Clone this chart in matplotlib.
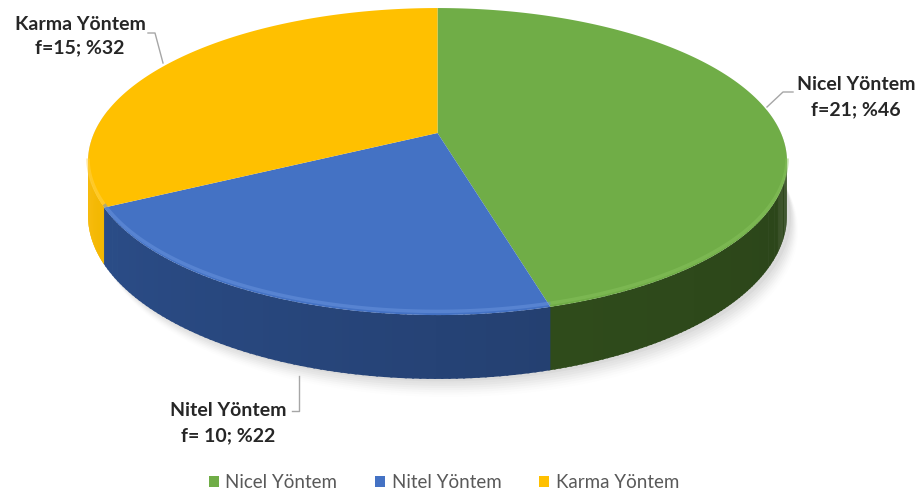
import numpy as np
import matplotlib
matplotlib.use('Agg')
import matplotlib.pyplot as plt
from matplotlib.patches import Patch
from matplotlib.colors import to_rgb

plt.rcParams['font.family'] = ['Lato', 'DejaVu Sans']

# data
categories = ['Nicel Yöntem', 'Nitel Yöntem', 'Karma Yöntem']
counts = [21, 10, 15]
value_labels = ['f=21; %46', 'f= 10; %22', 'f=15; %32']

top_colors = ['#70AD47', '#4472C4', '#FFC000']
side_light = ['#35561F', '#2C4F8C', '#F7BA00']
side_dark = ['#2B4419', '#1F365F', '#E0A500']
rim_light = ['#86C25C', '#6A95DE', '#FFD34D']

# pie geometry in pixels (perspective-ish 3d look)
cx, cy = 437.5, 133.0
A, B = 343.4, 148.2
p = 0.186
T = 52.0


def rim(theta, drop=0.0):
    th = np.radians(theta)
    s = 1.0 / (1.0 + p * np.cos(th))
    x = cx + A * np.sin(th) * s
    y = cy - B * np.cos(th) * s + drop * s
    return x, y


fig = plt.figure(figsize=(9.19, 4.96), dpi=100)
ax = fig.add_axes([0, 0, 1, 1])
ax.set_xlim(0, 919)
ax.set_ylim(496, 0)
ax.axis('off')

fracs = np.array(counts) / np.sum(counts)
edges = np.concatenate([[0], np.cumsum(fracs) * 360])

vis0 = 180 - np.degrees(np.arccos(p))
vis1 = 180 + np.degrees(np.arccos(p))

# soft shadow
tt = np.linspace(vis0 - 20, vis1 + 20, 200)
for k, a in zip(range(8), np.linspace(0.06, 0.015, 8)):
    bx, by = rim(tt, T + 2 + k * 1.8)
    ux, uy = rim(tt[::-1], 0)
    ax.fill(np.concatenate([bx + 4 + k, ux]), np.concatenate([by, uy]),
            color='#808080', alpha=a, lw=0, zorder=0)

# sides
for i in range(len(counts)):
    a0, a1 = max(edges[i], vis0), min(edges[i + 1], vis1)
    if a1 <= a0:
        continue
    ts = np.linspace(a0, a1, 80)
    c0, c1 = np.array(to_rgb(side_light[i])), np.array(to_rgb(side_dark[i]))
    for j in range(len(ts) - 1):
        mid = 0.5 * (ts[j] + ts[j + 1])
        w = (vis1 - mid) / (vis1 - vis0)
        col = c0 * (1 - w) + c1 * w
        xa, ya = rim(np.array([ts[j], ts[j + 1] + 0.3]))
        xb, yb = rim(np.array([ts[j + 1] + 0.3, ts[j]]), T)
        ax.fill(np.concatenate([xa, xb]), np.concatenate([ya, yb]),
                color=col, lw=0, zorder=1)

# tops
for i in range(len(counts)):
    ts = np.linspace(edges[i], edges[i + 1], 200)
    x, y = rim(ts)
    ax.fill(np.concatenate([[cx], x]), np.concatenate([[cy], y]),
            color=top_colors[i], lw=0, zorder=2)
    # bevel highlight on front rim
    a0, a1 = max(edges[i], vis0), min(edges[i + 1], vis1)
    if a1 > a0:
        tb = np.linspace(a0, a1, 100)
        hx, hy = rim(tb, -3)
        ax.plot(hx, hy, color=rim_light[i], lw=2.5, alpha=0.5,
                solid_capstyle='butt', zorder=3)

# labels and leader lines
lab_col = '#262626'
lead_col = '#A6A6A6'
fs = 14
ax.plot([148, 155, 163], [33, 33, 63], color=lead_col, lw=1, zorder=4)
ax.plot([793, 783, 767], [92, 92, 107], color=lead_col, lw=1, zorder=4)
ax.plot([299, 299, 292], [376, 411, 411], color=lead_col, lw=1, zorder=4)

ax.text(80, 24, categories[2], ha='center', va='center', fontsize=fs,
        fontweight='bold', color=lab_col)
ax.text(80, 48, value_labels[2], ha='center', va='center', fontsize=fs,
        fontweight='bold', color=lab_col)
ax.text(856, 85, categories[0], ha='center', va='center', fontsize=fs,
        fontweight='bold', color=lab_col)
ax.text(856, 110, value_labels[0], ha='center', va='center', fontsize=fs,
        fontweight='bold', color=lab_col)
ax.text(228, 411, categories[1], ha='center', va='center', fontsize=fs,
        fontweight='bold', color=lab_col)
ax.text(228, 436, value_labels[1], ha='center', va='center', fontsize=fs,
        fontweight='bold', color=lab_col)

handles = [Patch(facecolor=c, edgecolor='none') for c in top_colors]
leg = ax.legend(handles, categories, loc='center', bbox_to_anchor=(0.483, 0.027),
                ncol=3, frameon=False, fontsize=13.5, handlelength=0.55,
                handleheight=0.55, handletextpad=0.35, columnspacing=2.0)
for t in leg.get_texts():
    t.set_color('#595959')

fig.savefig('out.png', dpi=100)
